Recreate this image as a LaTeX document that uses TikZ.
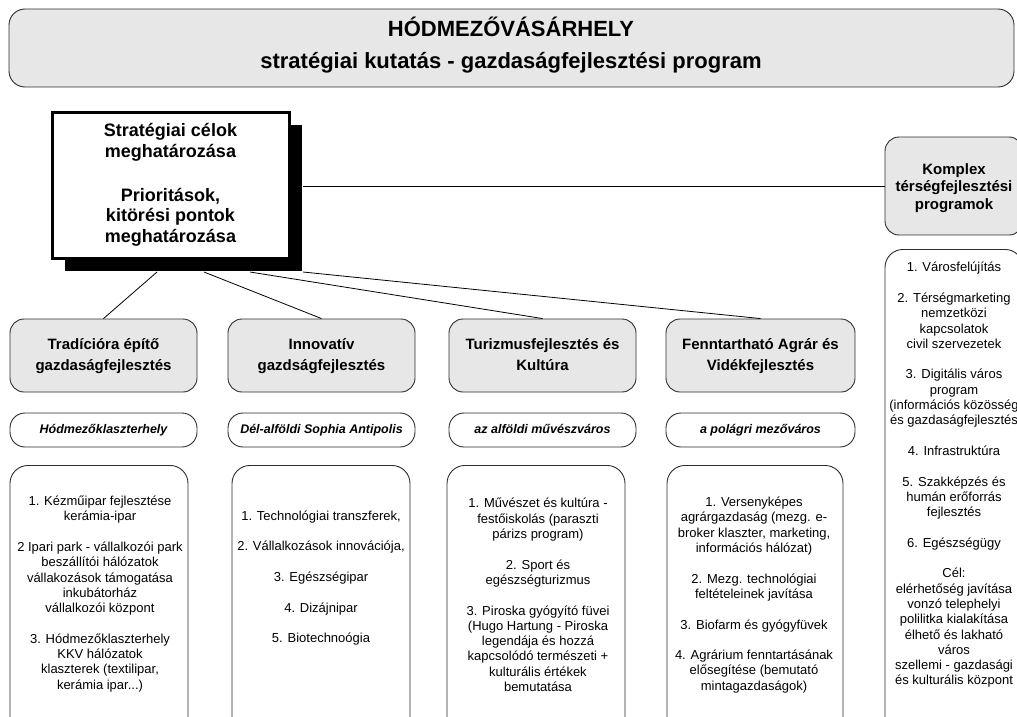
\documentclass[tikz,border=0pt]{standalone}
\usepackage{fontspec}
\setmainfont{Liberation Sans}
\usetikzlibrary{shadows}
\definecolor{boxgray}{RGB}{231,231,231}
\definecolor{edgegray}{RGB}{45,45,45}
\newcommand{\fixlines}{\lineskiplimit=-100pt\relax}
\begin{document}
\begin{tikzpicture}[x=1pt,y=-1pt,
  titlebox/.style={draw=edgegray, line width=0.9pt, fill=boxgray, rounded corners=16pt, inner sep=0pt},
  titletext/.style={align=center, inner sep=0pt, font=\bfseries\fontsize{22}{32}\selectfont\fixlines},
  goalbox/.style={draw=black, line width=3pt, fill=white, align=center, inner sep=0pt, font=\bfseries\fontsize{18}{20.5}\selectfont\fixlines, drop shadow={shadow xshift=13pt, shadow yshift=-13pt, fill=black, opacity=1}},
  graybox/.style={draw=edgegray, line width=0.9pt, fill=boxgray, rounded corners=14pt, align=center, inner sep=0pt, font=\bfseries\fontsize{15}{21}\selectfont\fixlines},
  graytext/.style={align=center, inner sep=0pt, font=\bfseries\fontsize{15}{17.5}\selectfont\fixlines},
  subbox/.style={draw=edgegray, line width=0.9pt, fill=white, rounded corners=15pt, inner sep=0pt, minimum width=187pt, minimum height=34pt, text height=9.5pt, text depth=3pt, font=\bfseries\itshape\fontsize{12.5}{15}\selectfont},
  listbox/.style={draw=edgegray, line width=0.9pt, fill=white, rounded corners=18pt, inner sep=0pt},
  listtext/.style={align=center, inner sep=0pt, font=\fontsize{13}{15.3}\selectfont\fixlines},
  conn/.style={draw=black, line width=0.8pt}]
\useasboundingbox (0,0) rectangle (1017,717);

% title
\node[titlebox, minimum width=1005pt, minimum height=78pt] (title) at (511.5,48) {};
\node[titletext] (titletxt) at (511,45)
  {HÓDMEZŐVÁSÁRHELY\\stratégiai kutatás - gazdaságfejlesztési program};

% central goal box
\node[goalbox, minimum width=237pt, minimum height=146pt] (goal) at (170.5,185)
  {Stratégiai célok\\meghatározása\\[23.5pt]Prioritások,\\kitörési pontok\\meghatározása};

% right column
\node[graybox, minimum width=138pt, minimum height=98pt] (komplex) at (954,186) {};
\node[graytext] (komplextxt) at (954,188) {Komplex\\térségfejlesztési\\programok};
\node[listbox, minimum width=138pt, minimum height=490pt, anchor=north] (rbox) at (954,249) {};
\node[listtext] (rtext) at (954,475)
  {1. Városfelújítás\\[15.3pt]
   2. Térségmarketing\\nemzetközi\\kapcsolatok\\civil szervezetek\\[15.3pt]
   3. Digitális város\\program\\(információs közösség\\és gazdaságfejlesztés\\[15.3pt]
   4. Infrastruktúra\\[15.3pt]
   5. Szakképzés és\\humán erőforrás\\fejlesztés\\[15.3pt]
   6. Egészségügy\\[15.3pt]
   Cél:\\elérhetőség javítása\\vonzó telephelyi\\polilitka kialakítása\\élhető és lakható\\város\\szellemi - gazdasági\\és kulturális központ};

% column headers
\node[graybox, minimum width=187pt, minimum height=73pt] (h1) at (103.5,355.5) {\strut Tradícióra építő\\gazdaságfejlesztés\strut};
\node[graybox, minimum width=187pt, minimum height=73pt] (h2) at (321.5,355.5) {\strut Innovatív\\gazdságfejlesztés\strut};
\node[graybox, minimum width=187pt, minimum height=73pt] (h3) at (542.5,355.5) {\strut Turizmusfejlesztés és\\Kultúra\strut};
\node[graybox, minimum width=189pt, minimum height=73pt] (h4) at (760.5,355.5) {\strut Fenntartható Agrár és\\Vidékfejlesztés\strut};

% subtitles
\node[subbox] (s1) at (103.5,430) {Hódmezőklaszterhely};
\node[subbox] (s2) at (321.5,430) {Dél-alföldi Sophia Antipolis};
\node[subbox] (s3) at (542.5,430) {az alföldi művészváros};
\node[subbox, minimum width=189pt] (s4) at (760.5,430) {a polágri mezőváros};

% list boxes
\node[listbox, minimum width=178pt, minimum height=280pt, anchor=north] (b1) at (99,465) {};
\node[listbox, minimum width=178pt, minimum height=280pt, anchor=north] (b2) at (321,465) {};
\node[listbox, minimum width=178pt, minimum height=280pt, anchor=north] (b3) at (536,465) {};
\node[listbox, minimum width=176pt, minimum height=280pt, anchor=north] (b4) at (755,465) {};

\node[listtext] (t1) at (100,594)
  {1. Kézműipar fejlesztése\\kerámia-ipar\\[15.3pt]
   2 Ipari park - vállalkozói park\\beszállítói hálózatok\\vállakozások támogatása\\inkubátorház\\vállalkozói központ\\[15.3pt]
   3. Hódmezőklaszterhely\\KKV hálózatok\\klaszterek (textilipar,\\kerámia ipar...)};
\node[listtext] (t2) at (321,578)
  {1. Technológiai transzferek,\\[15.3pt]
   2. Vállalkozások innovációja,\\[15.3pt]
   3. Egészségipar\\[15.3pt]
   4. Dizájnipar\\[15.3pt]
   5. Biotechnoógia};
\node[listtext] (t3) at (538,595)
  {1. Művészet és kultúra -\\festőiskolás (paraszti\\párizs program)\\[15.3pt]
   2. Sport és\\egészségturizmus\\[15.3pt]
   3. Piroska gyógyító füvei\\(Hugo Hartung - Piroska\\legendája és hozzá\\kapcsolódó természeti +\\kulturális értékek\\bemutatása};
\node[listtext] (t4) at (754,595)
  {1. Versenyképes\\agrárgazdaság (mezg. e-\\broker klaszter, marketing,\\információs hálózat)\\[15.3pt]
   2. Mezg. technológiai\\feltételeinek javítása\\[15.3pt]
   3. Biofarm és gyógyfüvek\\[15.3pt]
   4. Agrárium fenntartásának\\elősegítése (bemutató\\mintagazdaságok)};

% connector start points on the shadow edge of the goal box
\coordinate (o1) at (157,272);
\coordinate (o2) at (204,272);
\coordinate (o3) at (250,272);
\coordinate (o4) at (303,272);
\coordinate (o5) at (303,186);

\draw[conn] (o1) -- (h1.north);
\draw[conn] (o2) -- (h2.north);
\draw[conn] (o3) -- (h3.north);
\draw[conn] (o4) -- (h4.north);
\draw[conn] (o5) -- (komplex.west);
\end{tikzpicture}
\end{document}
